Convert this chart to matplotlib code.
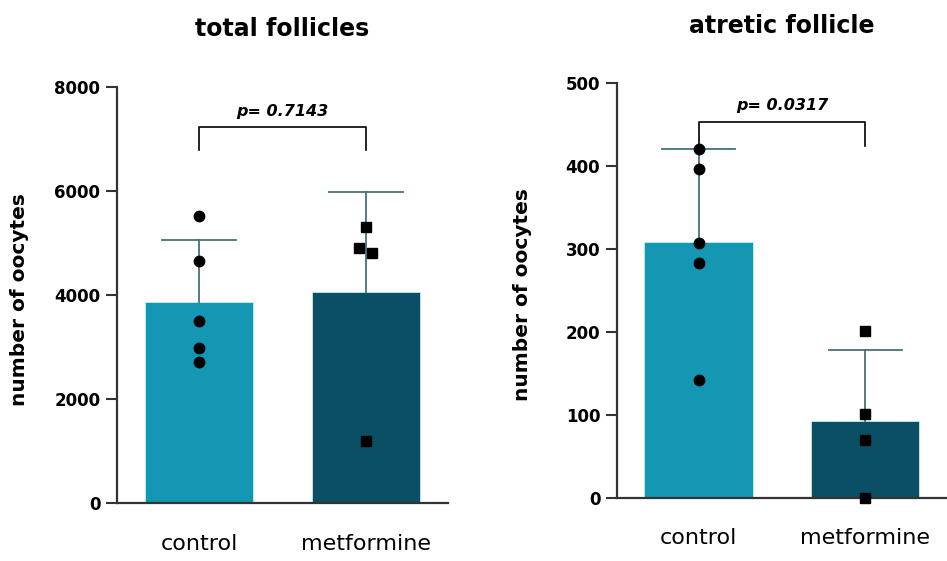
import numpy as np
import matplotlib
matplotlib.use('Agg')
from matplotlib import pyplot as plt

# data
groups = ['control', 'metformine']

total_means = [3870, 4050]
total_err = [1190, 1930]
total_control_pts = [5520, 4650, 3500, 2985, 2710]
total_metf_pts = [5300, 4910, 4815, 1190]
total_p = 'p= 0.7143'

atretic_means = [308, 93]
atretic_err = [112, 85]
atretic_control_pts = [420, 396, 307, 283, 142]
atretic_metf_pts = [201, 101, 70, 0]
atretic_p = 'p= 0.0317'

# small horizontal scatter of the metformine points
metf_jitter_total = [0.0, -0.04, 0.035, 0.0]
metf_jitter_atretic = [0.0, 0.0, 0.0, 0.0]

bar_colors = ['#1497b2', '#0a4f63']
err_color = '#44737a'
spine_color = '#333333'

plt.rcParams['font.family'] = ['DejaVu Sans']

fig = plt.figure(figsize=(9.47, 5.61), dpi=100)
ax1 = fig.add_axes([0.1236, 0.1034, 0.3495, 0.7415])
ax2 = fig.add_axes([0.6515, 0.1128, 0.3485, 0.7398])


def draw_panel(ax, title, means, err, c_pts, m_pts, jitter, ymax, step,
               p_text, bracket_y, leg_y, text_y, label_x, title_pad):
    x = np.arange(len(groups))
    ax.bar(x, means, width=0.65, color=bar_colors, edgecolor='#bfeef5',
           linewidth=0.6, zorder=1)
    for xi, m, e in zip(x, means, err):
        ax.plot([xi, xi], [m, m + e], color=err_color, lw=1.3, zorder=2)
        ax.plot([xi - 0.22, xi + 0.22], [m + e, m + e], color=err_color,
                lw=1.3, zorder=2)
    ax.plot(np.zeros(len(c_pts)), c_pts, 'o', color='black', ms=7.5,
            zorder=3, clip_on=False)
    ax.plot(np.ones(len(m_pts)) + np.array(jitter), m_pts, 's',
            color='black', ms=7, zorder=3, clip_on=False)

    # significance bracket
    ax.plot([0, 0, 1, 1], [leg_y[0], bracket_y, bracket_y, leg_y[1]],
            color='black', lw=1.2, zorder=2)
    ax.text(0.5, text_y, p_text, ha='center', va='center', fontsize=11.5,
            fontweight='bold', fontstyle='italic')

    ax.set_xlim(-0.49, 1.49)
    ax.set_ylim(0, ymax)
    ax.set_yticks(np.arange(0, ymax + 1, step))
    ax.set_xticks(x)
    ax.set_xticklabels(groups, fontsize=16)
    ax.tick_params(axis='x', length=0, pad=22)
    ax.tick_params(axis='y', length=8, width=1.5, color=spine_color,
                   labelsize=12, pad=4)
    for lab in ax.get_yticklabels():
        lab.set_fontweight('bold')
    for s in ['top', 'right']:
        ax.spines[s].set_visible(False)
    for s in ['left', 'bottom']:
        ax.spines[s].set_color(spine_color)
        ax.spines[s].set_linewidth(1.6)
    ax.set_ylabel('number of oocytes', fontsize=14.5, fontweight='bold')
    ax.yaxis.set_label_coords(label_x, 0.49)
    ax.set_title(title, fontsize=17, fontweight='bold', pad=title_pad)


draw_panel(ax1, 'total follicles', total_means, total_err,
           total_control_pts, total_metf_pts, metf_jitter_total,
           8000, 2000, total_p, 7230, (6790, 6790), 7520, -0.266, 37)
draw_panel(ax2, 'atretic follicle', atretic_means, atretic_err,
           atretic_control_pts, atretic_metf_pts, metf_jitter_atretic,
           500, 100, atretic_p, 453, (420, 424), 472, -0.258, 36)

fig.savefig('out.png', dpi=100)
